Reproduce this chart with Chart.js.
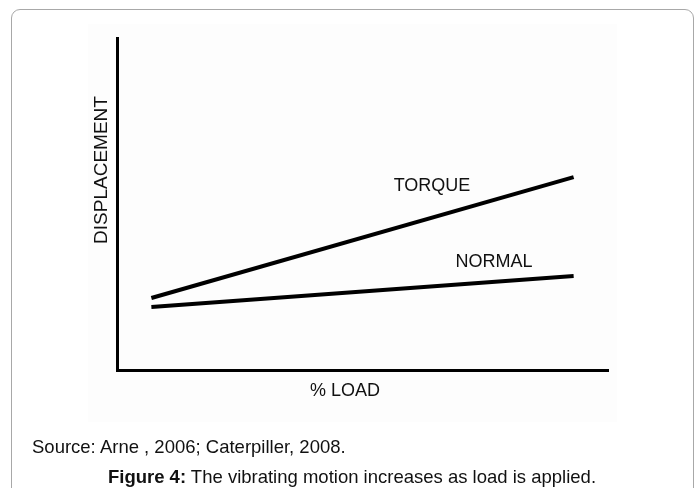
<!DOCTYPE html>
<html lang="en">
<head>
  <meta charset="UTF-8">
  <title>Figure 4</title>
  <script src="https://cdn.jsdelivr.net/npm/chart.js@4/dist/chart.umd.min.js"></script>
  <style>
    body { margin: 0; background: #fff; font-family: "Liberation Sans", Arial, sans-serif; }
    .page { position: relative; width: 700px; height: 488px; overflow: hidden; }
    .frame { position: absolute; left: 11px; top: 9px; width: 681px; height: 500px;
             border: 1px solid #a8a8a8; border-radius: 9px; }
    .scan { position: absolute; left: 88px; top: 24px; width: 529px; height: 398px; background: #fdfdfd; }
    canvas { position: absolute; left: 0; top: 0; }
    .source { position: absolute; left: 32px; top: 436px; font-size: 18.5px; color: #111; white-space: nowrap; }
    .caption { position: absolute; left: 2px; width: 700px; top: 466px; text-align: center; font-size: 18.5px; color: #111; white-space: nowrap; }
  </style>
</head>
<body>
  <div class="page">
    <div class="frame"></div>
    <div class="scan"></div>
    <canvas id="chart" width="700" height="488"></canvas>
    <div class="source">Source: Arne , 2006; Caterpiller, 2008.</div>
    <div class="caption"><b>Figure 4:</b> The vibrating motion increases as load is applied.</div>
  </div>

  <script>
    // Data (x: % load, y: displacement, arbitrary units 0-10)
    const loadPct = [7, 93];
    const torque = [2.17, 5.81];
    const normal = [1.90, 2.83];

    const toPoints = (ys) => loadPct.map((x, i) => ({ x: x, y: ys[i] }));

    // Axis titles and series names, drawn by plugin
    const labelsPlugin = {
      id: 'labels',
      afterDraw(chart) {
        const ctx = chart.ctx;
        ctx.save();
        ctx.fillStyle = '#111';
        ctx.font = '18px "Liberation Sans", Arial, sans-serif';
        ctx.textAlign = 'center';
        ctx.textBaseline = 'middle';
        ctx.fillText('TORQUE', 432, 186);
        ctx.fillText('NORMAL', 494, 262);
        ctx.fillText('% LOAD', 345, 391);
        ctx.translate(102, 170);
        ctx.rotate(-Math.PI / 2);
        ctx.font = '19px "Liberation Sans", Arial, sans-serif';
        ctx.fillText('DISPLACEMENT', 0, 0);
        ctx.restore();
      }
    };

    new Chart(document.getElementById('chart'), {
      type: 'line',
      data: {
        datasets: [
          { label: 'TORQUE', data: toPoints(torque), borderColor: '#000', borderWidth: 4, pointRadius: 0, borderCapStyle: 'butt' },
          { label: 'NORMAL', data: toPoints(normal), borderColor: '#000', borderWidth: 4, pointRadius: 0, borderCapStyle: 'butt' }
        ]
      },
      options: {
        responsive: false,
        animation: false,
        layout: { padding: { left: 109, top: 38, right: 92, bottom: 110 } },
        plugins: { legend: { display: false }, tooltip: { enabled: false } },
        scales: {
          x: {
            type: 'linear', min: 0, max: 100,
            grid: { display: false },
            ticks: { display: false },
            border: { color: '#000', width: 3 }
          },
          y: {
            min: 0, max: 10,
            grid: { display: false },
            ticks: { display: false },
            border: { color: '#000', width: 3 }
          }
        }
      },
      plugins: [labelsPlugin]
    });
  </script>
</body>
</html>
